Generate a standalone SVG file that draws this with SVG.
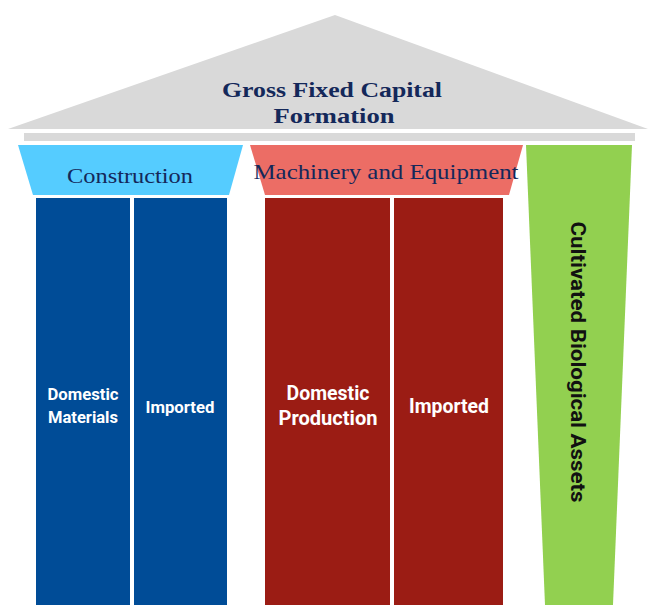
<svg xmlns="http://www.w3.org/2000/svg" width="648" height="605" viewBox="0 0 648 605">
<style>
.serif{font-family:"Liberation Serif","Times New Roman",serif;fill:#14285A;text-anchor:middle}
.sans{font-family:Roboto,"Liberation Sans",Arial,sans-serif;font-weight:bold;fill:#FFFFFF;text-anchor:middle}
.blue{fill:#004C97}
.red{fill:#9B1C14}
</style>
<rect width="648" height="605" fill="#FFFFFF"/>
<g id="roof">
<polygon points="8,129 335,15 648,129" fill="#D9D9D9"/>
<rect x="24" y="133" width="611" height="8" fill="#D9D9D9"/>
<text class="serif" x="332" y="97" font-size="22" font-weight="bold" textLength="220" lengthAdjust="spacingAndGlyphs">Gross Fixed Capital</text>
<text class="serif" x="334" y="123" font-size="22" font-weight="bold" textLength="121" lengthAdjust="spacingAndGlyphs">Formation</text>
</g>
<g id="construction">
<polygon points="18,145 243,145 229,195 33,195" fill="#55CCFF"/>
<text class="serif" x="130" y="183" font-size="21" textLength="126" lengthAdjust="spacingAndGlyphs">Construction</text>
</g>
<g id="construction-domestic">
<rect class="blue" x="36" y="198" width="94" height="407"/>
<text class="sans" x="83" y="400" font-size="16.5" textLength="71" lengthAdjust="spacingAndGlyphs">Domestic</text>
<text class="sans" x="83" y="423" font-size="16.5" textLength="70" lengthAdjust="spacingAndGlyphs">Materials</text>
</g>
<g id="construction-imported">
<rect class="blue" x="134" y="198" width="93" height="407"/>
<text class="sans" x="180" y="413" font-size="16.5" textLength="69" lengthAdjust="spacingAndGlyphs">Imported</text>
</g>
<g id="machinery">
<polygon points="250,145 523,145 509,195 265,195" fill="#EC6D65"/>
<text class="serif" x="386" y="179" font-size="21" textLength="265" lengthAdjust="spacingAndGlyphs">Machinery and Equipment</text>
</g>
<g id="machinery-domestic">
<rect class="red" x="265" y="198" width="125" height="407"/>
<text class="sans" x="328" y="400" font-size="19.5" textLength="83" lengthAdjust="spacingAndGlyphs">Domestic</text>
<text class="sans" x="328" y="425" font-size="19.5" textLength="99" lengthAdjust="spacingAndGlyphs">Production</text>
</g>
<g id="machinery-imported">
<rect class="red" x="394" y="198" width="109" height="407"/>
<text class="sans" x="449" y="413" font-size="19.5" textLength="80" lengthAdjust="spacingAndGlyphs">Imported</text>
</g>
<g id="cultivated">
<polygon points="526,145 632,145 613,605 545,605" fill="#92D050"/>
<text font-family="Roboto,'Liberation Sans',Arial,sans-serif" font-weight="bold" font-size="21" fill="#111111" text-anchor="middle" textLength="281" lengthAdjust="spacingAndGlyphs" transform="translate(571,362) rotate(90)">Cultivated Biological Assets</text>
</g>
<g id="connectors"></g>
</svg>
